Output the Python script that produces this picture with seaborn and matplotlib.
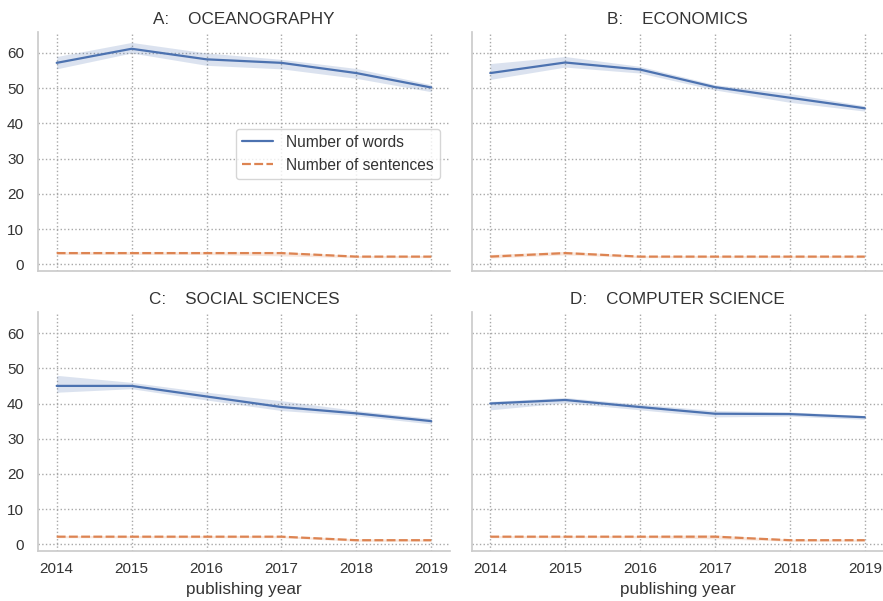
import numpy as np
import pandas as pd
import matplotlib
matplotlib.use("Agg")
import matplotlib.pyplot as plt
import seaborn as sns

years = [2014, 2015, 2016, 2017, 2018, 2019]
fields = ["A:    OCEANOGRAPHY", "B:    ECONOMICS", "C:    SOCIAL SCIENCES", "D:    COMPUTER SCIENCE"]
metrics = ["Number of words", "Number of sentences"]

# mean values per field
words = [
    [57.2, 61.2, 58.2, 57.2, 54.3, 50.2],
    [54.3, 57.3, 55.3, 50.3, 47.3, 44.3],
    [45.0, 45.0, 42.0, 39.0, 37.2, 35.0],
    [40.0, 41.0, 39.0, 37.1, 37.0, 36.1],
]
sentences = [
    [3.2, 3.2, 3.2, 3.2, 2.2, 2.2],
    [2.2, 3.2, 2.2, 2.2, 2.2, 2.2],
    [2.2, 2.2, 2.2, 2.2, 1.2, 1.2],
    [2.2, 2.2, 2.2, 2.2, 1.2, 1.2],
]
# confidence bands (lower / upper)
words_lo = [
    [55.5, 60.0, 56.5, 55.5, 52.8, 49.0],
    [52.5, 56.0, 54.3, 49.5, 46.0, 43.5],
    [43.2, 44.2, 41.0, 38.0, 36.5, 34.2],
    [38.2, 40.2, 38.2, 36.2, 36.4, 35.5],
]
words_hi = [
    [59.0, 63.0, 60.0, 58.2, 55.6, 51.0],
    [57.0, 59.0, 56.2, 51.0, 48.5, 45.0],
    [48.0, 46.0, 43.2, 40.8, 38.0, 35.8],
    [40.6, 41.7, 39.8, 38.0, 37.6, 36.6],
]
sent_lo = [
    [2.8, 2.8, 2.8, 2.4, 1.9, 1.9],
    [1.8, 2.7, 1.9, 1.9, 1.9, 1.9],
    [1.9, 1.9, 1.9, 1.9, 0.9, 0.9],
    [1.9, 1.9, 1.9, 1.6, 0.9, 0.9],
]
sent_hi = [
    [3.6, 3.6, 3.6, 3.6, 2.5, 2.5],
    [2.8, 3.7, 2.5, 2.5, 2.5, 2.5],
    [2.5, 2.5, 2.5, 2.5, 1.6, 1.5],
    [2.5, 2.5, 2.5, 2.7, 1.5, 1.5],
]

rows = []
for i, f in enumerate(fields):
    for j, y in enumerate(years):
        rows.append((f, y, metrics[0], words[i][j], words_lo[i][j], words_hi[i][j]))
        rows.append((f, y, metrics[1], sentences[i][j], sent_lo[i][j], sent_hi[i][j]))
df = pd.DataFrame(rows, columns=["field", "year", "metric", "value", "lo", "hi"])

sns.set_theme(style="whitegrid", palette="deep")
plt.rcParams["font.family"] = ["Liberation Sans", "DejaVu Sans"]
plt.rcParams["grid.linestyle"] = ":"
plt.rcParams["grid.color"] = "#a8a8a8"
plt.rcParams["axes.edgecolor"] = "#cccccc"

pal = sns.color_palette("deep")
colors = {metrics[0]: pal[0], metrics[1]: pal[1]}

fig = plt.figure(figsize=(8.83, 6.01), dpi=100)
boxes = [
    [0.043, 0.549, 0.4666, 0.398],
    [0.534, 0.549, 0.4666, 0.398],
    [0.043, 0.083, 0.4666, 0.398],
    [0.534, 0.083, 0.4666, 0.398],
]

for i, f in enumerate(fields):
    ax = fig.add_axes(boxes[i])
    sub = df[df.field == f]
    for m in metrics:
        s = sub[sub.metric == m]
        ax.fill_between(s.year, s.lo, s.hi, color=colors[m], alpha=0.2, lw=0)
    sns.lineplot(data=sub, x="year", y="value", hue="metric", style="metric",
                 palette=colors, errorbar=None, lw=1.6, ax=ax, legend=(i == 0))
    ax.set_xlim(2013.75, 2019.25)
    ax.set_ylim(-1.9, 66)
    ax.set_yticks([0, 10, 20, 30, 40, 50, 60])
    ax.set_xticks(years)
    ax.set_title(f, fontsize=12.3, color="#333333", pad=6)
    ax.tick_params(labelsize=11, colors="#333333", length=0)
    ax.tick_params(axis="y", pad=10)
    ax.tick_params(axis="x", pad=8)
    sns.despine(ax=ax)
    ax.grid(True)
    ax.set_ylabel("")
    if i < 2:
        ax.set_xticklabels([])
        ax.set_xlabel("")
    else:
        ax.set_xlabel("publishing year", fontsize=12.3, color="#333333", labelpad=4)
    if i % 2 == 1:
        ax.set_yticklabels([])
    if i == 0:
        leg = ax.legend(loc="upper left", bbox_to_anchor=(0.462, 0.628), fontsize=11.2,
                        title=None, frameon=True)
        for t in leg.get_texts():
            t.set_color("#333333")

fig.savefig("out.png", dpi=100)
